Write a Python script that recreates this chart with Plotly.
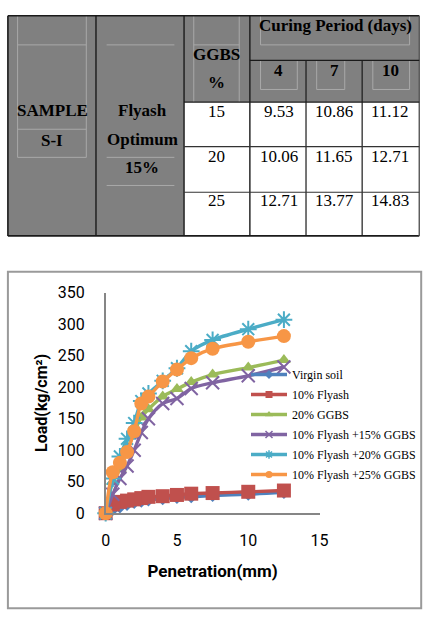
import plotly.graph_objects as go

W, H = 436, 626

# ---------------- data ----------------
ggbs_pct = [15, 20, 25]
curing_days = [4, 7, 10]
cbr_day4 = [9.53, 10.06, 12.71]
cbr_day7 = [10.86, 11.65, 13.77]
cbr_day10 = [11.12, 12.71, 14.83]

penetration = [0, 0.5, 1, 1.5, 2, 2.5, 3, 4, 5, 6, 7.5, 10, 12.5]
virgin_soil = [0, 6, 10, 14, 17, 19, 21, 23, 25, 26, 28, 30, 33]
flyash_10 = [0, 14, 18, 20, 22, 24, 26, 27, 29, 31, 32, 34, 36]
ggbs_20 = [0, 50, 70, 100, 128, 152, 165, 185, 197, 208, 220, 231, 243]
fa10_ggbs15 = [0, 30, 55, 75, 100, 128, 150, 174, 182, 198, 207, 218, 232]
fa10_ggbs20 = [0, 55, 90, 118, 143, 178, 190, 210, 230, 257, 275, 292, 307]
fa10_ggbs25 = [0, 65, 80, 97, 130, 174, 185, 209, 228, 246, 261, 272, 281]

series_names = ["Virgin soil", "10% Flyash", "20% GGBS",
                "10% Flyash +15% GGBS", "10% Flyash +20% GGBS", "10% Flyash +25% GGBS"]
series_values = [virgin_soil, flyash_10, ggbs_20, fa10_ggbs15, fa10_ggbs20, fa10_ggbs25]
colors = ["#4F81BD", "#C0504D", "#9BBB59", "#8064A2", "#4BACC6", "#F79646"]
symbols = ["diamond", "square", "triangle-up", "x-thin-open", "asterisk-open", "circle"]
sizes = [10, 14, 12, 13, 14, 14]


def fx(x):
    return x / W


def fy(y):
    return 1 - y / H


fig = go.Figure()

for name, vals, c, s, sz in zip(series_names, series_values, colors, symbols, sizes):
    open_sym = s.endswith("open")
    fig.add_trace(go.Scatter(
        x=penetration, y=vals, mode="lines+markers", name=name,
        line=dict(color=c, width=3.4, shape="spline", smoothing=0.8),
        marker=dict(symbol=s, size=sz, color=c,
                    line=dict(color=c, width=2 if open_sym else 0)),
        cliponaxis=False, showlegend=False,
    ))

# legend entries (small markers like the spreadsheet legend)
for i, (name, c, s) in enumerate(zip(series_names, colors, symbols)):
    open_sym = s.endswith("open")
    fig.add_trace(go.Scatter(
        x=[None], y=[None], mode="lines+markers", name=name,
        legendgroup=f"g{i}",
        line=dict(color=c, width=3.4),
        marker=dict(symbol=s, size=7, color=c,
                    line=dict(color=c, width=1.5 if open_sym else 0)),
    ))

# ---------------- table shapes ----------------
shapes = []
GRAY = "#808080"
FAINT = "#a8a8a8"
DARK = "#1a1a1a"


def rect(x0, y0, x1, y1, fill, lw=0, lc=None, layer="below"):
    shapes.append(dict(type="rect", xref="paper", yref="paper",
                       x0=fx(x0), x1=fx(x1), y0=fy(y1), y1=fy(y0),
                       fillcolor=fill, line=dict(width=lw, color=lc or fill), layer=layer))


def line(x0, y0, x1, y1, color, width):
    shapes.append(dict(type="line", xref="paper", yref="paper",
                       x0=fx(x0), x1=fx(x1), y0=fy(y0), y1=fy(y1),
                       line=dict(color=color, width=width), layer="above"))


rect(3, 7, 185, 234, GRAY)
rect(185, 7, 428, 96, GRAY)

# faint text-frame lines
for xx in (13, 84):
    line(xx, 7, xx, 153, FAINT, 1)
for yy in (37, 124, 153):
    line(13, yy, 84, yy, FAINT, 1)
for yy in (37, 153, 182):
    line(105, yy, 175, yy, FAINT, 1)
for xx in (195, 242):
    line(xx, 7, xx, 96, FAINT, 1)
line(195, 37, 242, 37, FAINT, 1)
line(264, 7, 264, 37, FAINT, 1)
line(418, 7, 418, 37, FAINT, 1)
line(264, 37, 418, 37, FAINT, 1)
for (a, b) in ((264, 302), (322, 351), (380, 418)):
    line(a, 53, a, 83, FAINT, 1)
    line(b, 53, b, 83, FAINT, 1)
    line(a, 83, b, 83, FAINT, 1)

# table borders
line(3, 7, 428, 7, DARK, 1.6)
line(3, 234, 428, 234, DARK, 1.6)
line(3, 7, 3, 234, DARK, 1.6)
line(428, 7, 428, 234, "#555555", 1.4)
for xx in (94, 185, 253):
    line(xx, 7, xx, 234, DARK, 1.4)
for xx in (311, 369):
    line(xx, 53, xx, 234, DARK, 1.2)
line(253, 53, 428, 53, DARK, 1.2)
line(185, 96, 428, 96, DARK, 1.2)
for yy in (142, 189):
    line(185, yy, 428, yy, "#333333", 1.2)

# chart frame
shapes.append(dict(type="rect", xref="paper", yref="paper",
                   x0=fx(3), x1=fx(430), y0=fy(618), y1=fy(271),
                   line=dict(color="#9a9a9a", width=2), fillcolor="rgba(0,0,0,0)",
                   layer="below"))

# ---------------- table text ----------------
annotations = []
SERIF = "Liberation Serif"


def txt(x, y, s, size=17, bold=False):
    annotations.append(dict(xref="paper", yref="paper", x=fx(x), y=fy(y),
                            text=f"<b>{s}</b>" if bold else s, showarrow=False,
                            xanchor="center", yanchor="middle",
                            font=dict(family=SERIF, size=size, color="black")))


txt(49, 105, "SAMPLE", bold=True)
txt(49, 136, "S-I", bold=True)
txt(142, 105, "Flyash", bold=True)
txt(142, 135, "Optimum", bold=True)
txt(142, 163, "15%", bold=True)
txt(219, 47, "GGBS", bold=True)
txt(219, 76, "%", bold=True)
txt(341, 17, "Curing Period (days)", bold=True)
for cx, d in zip((283, 340, 398), curing_days):
    txt(cx, 63, str(d), bold=True)

row_y = [106, 152, 198]
for ry, g, v4, v7, v10 in zip(row_y, ggbs_pct, cbr_day4, cbr_day7, cbr_day10):
    txt(219, ry, str(g))
    txt(283, ry, f"{v4:.2f}")
    txt(340, ry, f"{v7:.2f}")
    txt(398, ry, f"{v10:.2f}")

SANS = "Roboto"
fig.update_layout(
    width=W, height=H, autosize=False,
    margin=dict(l=0, r=0, t=0, b=0),
    paper_bgcolor="white", plot_bgcolor="rgba(0,0,0,0)",
    shapes=shapes, annotations=annotations,
    xaxis=dict(domain=[fx(104), fx(325)], range=[0, 15], tickvals=[0, 5, 10, 15],
               showgrid=False, zeroline=False, showline=True, linecolor="#868686",
               linewidth=1.5, ticks="outside", ticklen=12, tickcolor="rgba(0,0,0,0)",
               tickfont=dict(family=SANS, size=16, color="black"),
               title=dict(text="<b>Penetration(mm)</b>", standoff=16,
                          font=dict(family=SANS, size=17, color="black"))),
    yaxis=dict(domain=[fy(520), fy(292.5)], range=[0, 350], tickvals=[0, 50, 100, 150, 200, 250, 300, 350],
               showgrid=False, zeroline=False, showline=True, linecolor="#868686",
               linewidth=1.5, ticks="outside", ticklen=16, tickcolor="rgba(0,0,0,0)",
               tickfont=dict(family=SANS, size=16, color="black"),
               title=dict(text="<b>Load(kg/cm²)</b>", standoff=6,
                          font=dict(family=SANS, size=16, color="black"))),
    legend=dict(x=fx(249), y=fy(362), xanchor="left", yanchor="top",
                bgcolor="rgba(0,0,0,0)", itemwidth=36, tracegroupgap=1,
                font=dict(family=SERIF, size=12, color="black")),
)

fig.write_html("out.html")
